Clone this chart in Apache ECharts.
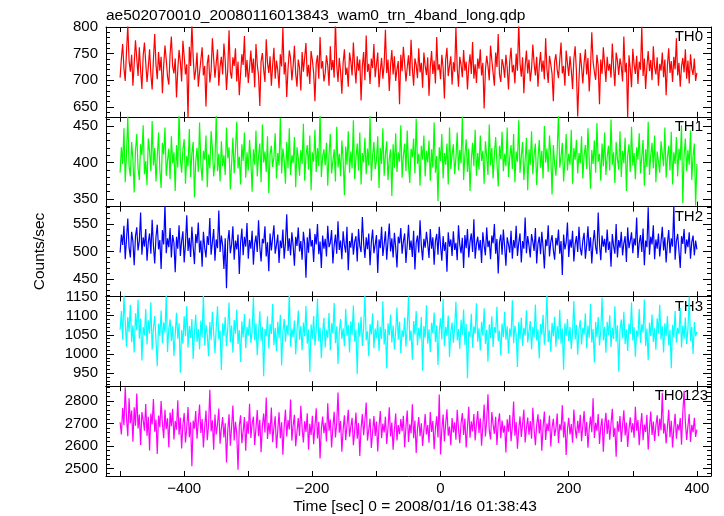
<!DOCTYPE html>
<html>
<head>
<meta charset="utf-8">
<script src="https://cdn.jsdelivr.net/npm/echarts@6/dist/echarts.min.js"></script>
<style>
html,body{margin:0;padding:0;background:#fff;}
#chart{width:724px;height:516px;}
</style>
</head>
<body>
<div id="chart"></div>
<script>
// ---- data ----
const timeStart = -500;   // sec, first bin
const timeStep = 2;       // sec, bin width
const panelNames = ['TH0', 'TH1', 'TH2', 'TH3', 'TH0123'];
const panelColors = ['#ff0000', '#00ff00', '#0000ff', '#00ffff', '#ff00ff'];

const th0 = [
705,741,768,722,699,754,803,737,716,748,690,731,775,742,708,762,719,684,746,771,
733,697,725,758,711,683,740,787,729,702,753,718,744,676,728,765,739,707,692,749,
782,726,713,741,668,720,757,735,698,774,745,711,730,628,763,727,806,744,701,719,
752,688,715,738,762,709,727,651,731,748,696,717,779,740,705,733,758,690,726,744,
711,769,737,682,721,794,716,703,743,727,760,698,735,672,712,749,729,783,706,738,
695,724,756,714,741,687,768,730,709,652,736,751,720,697,777,733,714,745,690,728,
761,703,737,719,685,749,726,798,711,734,669,722,756,741,700,727,765,712,688,739,
724,681,753,716,743,770,707,729,693,755,738,714,661,731,747,703,781,722,736,698,
713,747,728,690,764,719,738,705,812,729,697,742,717,675,733,758,710,724,688,752,
735,709,771,726,694,745,718,739,662,727,753,700,784,716,731,693,741,723,768,706,
729,752,687,718,742,703,730,795,714,739,680,728,757,711,745,699,721,736,655,748,
717,763,731,698,724,747,708,776,722,690,741,729,704,760,715,733,686,752,727,710,
743,671,726,755,712,737,694,781,719,730,702,748,724,666,739,761,708,727,745,692,
734,716,799,723,688,744,729,706,757,718,735,683,726,749,712,772,703,730,695,741,
722,758,709,733,647,719,746,727,700,765,738,714,690,752,725,787,711,697,740,728,
705,748,724,683,736,761,715,729,694,750,718,808,732,707,743,676,727,756,713,739,
698,722,767,731,709,744,688,726,753,716,737,702,779,721,695,746,730,712,661,735,
749,720,704,738,771,713,727,690,756,732,708,745,719,684,740,764,717,632,702,751,
726,694,733,758,711,742,679,724,790,735,716,701,748,727,655,739,712,762,730,697,
744,718,731,705,769,724,689,752,737,710,741,726,698,782,715,733,630,747,722,687,
759,729,712,746,693,735,720,801,708,741,684,726,755,717,738,700,764,725,711,743,
690,731,718,752,706,739,672,728,760,714,736,697,744,721,779,709,733,688,726,742,
715,758,703,737,694,749,722,710,741,699,714];
const th1 = [
386,421,398,447,373,412,463,395,381,428,404,359,417,439,392,376,425,410,451,384,
402,369,433,415,388,457,396,420,374,408,441,390,365,427,411,448,382,403,419,377,
436,399,414,361,424,393,470,405,386,418,432,371,409,395,446,380,413,428,352,401,
420,387,455,398,375,416,404,437,366,411,392,443,419,381,401,466,388,412,374,429,
395,410,383,448,406,421,363,399,434,385,417,456,392,408,370,425,402,441,379,414,
389,431,402,360,418,397,444,381,409,426,373,452,400,415,387,436,358,411,423,394,
407,440,378,413,396,461,385,419,404,371,428,392,447,383,410,399,435,366,421,406,
382,417,398,453,375,409,424,390,437,362,414,401,445,387,420,395,472,380,408,418,
396,427,368,411,439,385,402,418,374,449,393,412,381,430,404,355,422,397,443,386,
415,392,458,377,406,426,389,441,370,413,400,434,384,419,396,464,375,410,428,391,
403,436,365,420,398,447,382,411,429,376,405,418,354,425,393,440,387,414,401,451,
379,409,426,388,444,396,372,419,407,433,385,460,398,412,368,423,404,437,381,416,
400,430,375,418,393,455,386,409,347,421,402,439,378,413,397,426,370,448,391,411,
425,384,406,441,389,417,399,463,376,410,432,387,419,361,404,427,395,445,382,413,
390,437,402,416,371,429,408,383,452,396,420,378,411,435,399,367,423,405,442,388,
412,395,448,380,407,424,391,439,373,415,401,458,386,409,428,376,403,434,362,418,
397,443,384,411,426,369,405,431,393,416,378,450,400,419,387,437,410,356,424,398,
382,415,468,393,408,427,374,402,439,389,412,397,445,371,420,404,431,385,413,399,
436,378,410,424,391,447,403,364,417,398,430,386,454,401,412,375,426,395,441,383,
408,423,389,459,397,414,372,428,405,390,443,380,416,399,434,361,411,425,387,449,
396,413,377,421,404,440,385,408,431,368,418,394,456,383,410,427,392,437,373,415,
401,386,429,412,395,448,379,407,423,389,442,370,414,398,435,381,419,403,451,344,
410,433,388,417,397,444,376,409,426,341,398];
const th2 = [
498,531,512,547,486,523,560,507,489,536,518,475,528,544,502,519,571,494,526,509,
541,483,517,533,496,558,511,478,527,549,504,521,468,539,513,586,497,524,508,543,
489,530,516,462,527,505,548,492,519,537,480,514,566,501,525,490,545,509,477,532,
515,553,498,520,472,536,507,489,528,512,561,494,517,541,483,522,506,575,499,529,
511,468,524,433,518,539,497,513,546,485,520,504,531,459,516,542,493,527,509,552,
487,521,505,538,476,514,529,499,557,508,482,523,515,546,491,517,464,533,502,525,
548,496,512,531,479,520,506,540,487,515,568,501,524,493,535,511,474,527,510,544,
500,519,485,536,514,452,526,498,542,509,521,481,532,513,550,495,518,470,529,505,
523,491,547,508,516,539,478,511,531,496,555,503,520,486,537,512,498,545,466,519,
507,534,494,518,528,482,541,510,499,563,515,488,526,504,533,475,517,540,497,512,
530,461,522,506,545,492,513,537,485,519,551,500,524,489,534,508,471,527,515,543,
496,518,533,479,512,549,503,520,490,538,467,516,529,498,557,511,484,523,507,536,
514,488,541,505,526,476,519,532,494,545,510,483,528,501,517,463,535,509,522,492,
537,503,516,484,548,512,497,525,470,530,506,541,489,518,533,499,559,487,514,527,
502,521,479,535,511,493,544,508,520,486,529,515,550,496,523,460,517,531,494,540,
509,474,526,513,498,538,487,521,506,547,492,516,533,480,519,505,562,497,528,511,
489,532,518,501,543,478,514,527,495,536,508,469,522,510,548,491,517,530,503,485,
525,511,540,496,519,457,531,504,516,553,490,522,507,538,482,513,528,499,545,506,
493,520,534,487,512,546,501,526,478,517,539,508,495,571,514,484,529,509,523,498,
540,503,518,472,532,510,496,550,489,521,507,536,493,515,528,481,544,506,519,535,
497,524,511,562,488,516,530,499,542,475,520,508,581,494,527,513,548,486,522,505,
533,491,518,545,502,526,480,515,539,497,524,509,584,485,519,532,501,470,528,514,
541,496,522,508,535,487,517,529,493,520,504];
const th3 = [
1063,1112,1038,1151,1084,1019,1096,1057,1128,1031,1075,1004,1106,1062,1141,1040,1092,983,1070,1049,
1117,1025,1088,1053,1135,1011,1067,1099,1036,968,1079,1047,1113,1028,1082,1056,1152,1005,1066,1090,
1034,1072,995,1051,1107,1040,1080,951,1062,1027,1098,1046,1125,1016,1073,1042,1091,987,1055,1102,
1031,1065,1012,1087,1044,1156,1022,1076,1050,994,1083,1036,1110,1057,1002,1069,1124,1038,1061,958,
1080,1047,1096,1020,1067,1134,1030,1074,1003,1089,1053,1116,1026,1062,979,1085,1043,1104,1015,1070,
1048,1092,1029,1059,1147,1036,1079,997,1056,1111,1033,1071,942,1065,1046,1098,1014,1078,1052,1130,
1023,1068,1007,1084,1041,1102,970,1057,1091,1032,1075,1049,1160,1019,1066,1044,1087,999,1060,1113,
1037,1073,1010,1082,1046,1125,1027,1064,953,1077,1040,1099,1022,1061,1144,1034,1069,989,1056,1094,
1017,1063,1042,1107,1010,1080,1054,1133,1028,1072,974,1058,1091,1039,1067,1020,1118,1047,1076,1004,
1085,1050,1126,1033,1063,947,1082,1045,1097,1021,1070,1155,1036,1059,994,1078,1051,1106,1015,1066,
1041,1088,1008,1071,1039,1137,1025,1065,962,1080,1049,1103,1030,1074,1012,1058,1121,1037,1084,1002,
1062,1044,1095,1019,1069,1150,1034,1061,985,1086,1051,1112,1023,1068,1040,1096,956,1073,1042,1127,
1027,1064,1005,1081,1054,1108,1031,1075,971,1060,1093,1038,1143,1020,1071,1047,1100,992,1057,1082,
1029,1069,1136,1035,1065,1013,1089,1050,1116,1024,1078,937,1059,1045,1105,1016,1072,1053,1132,1032,
1067,1009,1084,1048,1119,1026,1063,980,1077,1041,1098,1018,1070,1055,1123,1033,1061,996,1079,1044,
1109,1037,1072,1001,1066,1045,1140,1028,1074,1052,966,1083,1039,1095,1021,1068,1048,1114,1030,1059,
1086,1012,1071,1043,1129,1035,1064,988,1078,1050,1102,1024,1067,1154,1031,1062,1006,1081,1046,1097,
1019,1073,1040,1115,1027,1066,959,1080,1047,1091,1034,1070,1013,1058,1138,1038,1076,998,1063,1088,
1025,1069,1051,1106,1015,1074,1042,1131,1030,1065,978,1083,1044,1096,1022,1060,1147,1036,1071,1003,
1084,1049,1101,1018,1068,1039,1124,1032,1075,954,1062,1090,1041,1110,1026,1064,1008,1079,1052,1135,
1035,1070,993,1061,1045,1117,1029,1077,1056,1142,1020,1066,984,1082,1047,1103,1031,1067,1011,1093,
1054,1128,1038,1072,1004,1080,1046,1099,1023,1063,963,1076,1043,1112,1030,1068,1053,1120,1017,1074,
1040,1095,1026,1065,1150,1034,1071,1000,1083,1046,1058];
const th0123 = [
2705,2651,2768,2692,2860,2724,2643,2812,2701,2757,2619,2772,2690,2833,2678,2739,2604,2750,2715,2668,
2786,2645,2729,2580,2744,2696,2808,2663,2717,2565,2735,2683,2799,2700,2634,2761,2674,2723,2595,2748,
2688,2765,2629,2711,2672,2803,2650,2726,2589,2694,2746,2616,2682,2773,2639,2705,2510,2712,2677,2755,
2632,2706,2784,2658,2719,2593,2686,2757,2626,2692,2849,2665,2714,2583,2740,2651,2695,2766,2610,2678,
2728,2638,2701,2527,2670,2741,2601,2684,2779,2624,2707,2656,2495,2689,2736,2612,2666,2728,2579,2709,
2654,2787,2636,2699,2730,2605,2679,2759,2643,2716,2572,2688,2744,2660,2815,2631,2703,2652,2771,2617,
2682,2732,2590,2668,2749,2634,2705,2561,2686,2761,2642,2715,2673,2806,2624,2691,2738,2599,2664,2724,
2645,2778,2680,2616,2710,2662,2745,2584,2698,2649,2734,2608,2687,2767,2633,2707,2545,2676,2730,2657,
2703,2620,2789,2668,2717,2593,2683,2752,2638,2700,2837,2659,2711,2575,2673,2736,2626,2692,2760,2641,
2685,2725,2603,2666,2748,2632,2702,2556,2679,2741,2648,2715,2793,2624,2672,2721,2591,2660,2733,2645,
2708,2576,2687,2755,2635,2699,2660,2730,2609,2680,2772,2642,2704,2583,2671,2744,2625,2693,2652,2719,
2666,2734,2595,2684,2757,2618,2696,2657,2785,2634,2713,2569,2676,2728,2643,2701,2600,2669,2742,2651,
2693,2615,2750,2662,2711,2586,2678,2732,2638,2828,2562,2674,2739,2620,2697,2763,2646,2686,2603,2724,
2660,2705,2628,2760,2676,2612,2701,2746,2649,2722,2593,2681,2774,2637,2709,2665,2742,2624,2698,2755,
2658,2723,2601,2687,2784,2642,2714,2829,2670,2629,2750,2695,2654,2729,2605,2702,2745,2635,2713,2659,
2690,2571,2718,2663,2737,2621,2684,2797,2646,2706,2588,2675,2731,2640,2698,2761,2616,2679,2726,2650,
2711,2632,2769,2673,2604,2694,2740,2655,2718,2579,2686,2753,2627,2700,2667,2735,2598,2682,2720,2645,
2677,2744,2613,2696,2669,2781,2638,2708,2560,2673,2725,2651,2697,2615,2762,2680,2633,2712,2658,2738,
2621,2689,2755,2644,2706,2592,2678,2730,2661,2811,2636,2703,2668,2742,2609,2685,2722,2575,2691,2747,
2653,2716,2628,2699,2765,2640,2681,2552,2710,2663,2733,2618,2692,2758,2647,2704,2596,2675,2727,2660,
2701,2637,2774,2668,2715,2603,2687,2746,2626,2695,2662,2738,2584,2679,2753,2649,2708,2622,2690,2736,
2643,2721,2670,2836,2655,2700,2611,2684,2760,2639,2712,2593,2678,2743,2632,2696,2669,2724,2606,2748,
2845,2705,2627,2689,2742,2618,2694,2661,2725,2640,2673];
const seriesValues = [th0, th1, th2, th3, th0123];

const xRange = [-522, 422];
const xTickValues = [-500, -400, -300, -200, -100, 0, 100, 200, 300, 400];
const xLabelValues = [-400, -200, 0, 200, 400];
const yRanges = [[631.6, 800], [339.5, 462.7], [418, 582], [916, 1150], [2467, 2865]];
const yLabelValues = [
  [650, 700, 750, 800],
  [350, 400, 450],
  [450, 500, 550],
  [950, 1000, 1050, 1100, 1150],
  [2500, 2600, 2700, 2800]
];
const yMinorSteps = [10, 10, 10, 10, 20];

const titleText = 'ae502070010_20080116013843_wam0_trn_4band_long.qdp';
const xTitle = 'Time [sec] 0 = 2008/01/16 01:38:43';
const yTitle = 'Counts/sec';

// ---- layout ----
const FONT = '"Liberation Sans", Arial, Helvetica, sans-serif';
const gridLeft = 106, gridWidth = 605, gridTop0 = 27, gridH = 89.8;
const labelRight = [703, 703, 703, 703, 708];

const grids = [], xAxes = [], yAxes = [], series = [], graphics = [];
const plainFmt = v => String(v).replace('-', '\u2212');

for (let i = 0; i < 5; i++) {
  const top = gridTop0 + i * gridH;
  grids.push({ left: gridLeft, width: gridWidth, top: top, height: gridH, containLabel: false });

  const lineStyle = { show: true, onZero: false, lineStyle: { color: '#000', width: 1 } };
  ['bottom', 'top'].forEach(pos => {
    xAxes.push({
      type: 'value', gridIndex: i, position: pos, min: xRange[0], max: xRange[1],
      axisLine: lineStyle,
      axisTick: { show: true, inside: true, length: 5, customValues: xTickValues, lineStyle: { color: '#000', width: 1 } },
      axisLabel: {
        show: (pos === 'bottom' && i === 4), customValues: xLabelValues, formatter: plainFmt,
        fontSize: 15, fontFamily: FONT, color: '#000', margin: 5
      },
      splitLine: { show: false }
    });
  });

  const [ymin, ymax] = yRanges[i];
  const step = yMinorSteps[i];
  const minor = [];
  for (let v = Math.ceil(ymin / step) * step; v <= ymax; v += step) minor.push(v);

  ['left', 'right'].forEach(pos => {
    yAxes.push({
      type: 'value', gridIndex: i, position: pos, min: ymin, max: ymax,
      axisLine: lineStyle,
      axisTick: { show: true, inside: true, length: 8, customValues: yLabelValues[i], lineStyle: { color: '#000', width: 1 } },
      axisLabel: {
        show: pos === 'left', customValues: yLabelValues[i], formatter: plainFmt,
        fontSize: 15, fontFamily: FONT, color: '#000', margin: 8
      },
      splitLine: { show: false }
    });
    yAxes.push({
      type: 'value', gridIndex: i, position: pos, min: ymin, max: ymax,
      axisLine: { show: false, onZero: false },
      axisTick: { show: true, inside: true, length: 4, customValues: minor, lineStyle: { color: '#000', width: 1 } },
      axisLabel: { show: false },
      splitLine: { show: false }
    });
  });

  const vals = seriesValues[i];
  series.push({
    type: 'line',
    xAxisIndex: i * 2,
    yAxisIndex: i * 4,
    data: vals.map((v, k) => [timeStart + k * timeStep, v]),
    showSymbol: false,
    symbol: 'none',
    clip: true,
    lineStyle: { color: panelColors[i], width: 1.2 },
    itemStyle: { color: panelColors[i] },
    silent: true
  });

  graphics.push({
    type: 'text', x: labelRight[i], y: top + 10,
    style: { text: panelNames[i], fill: '#000', font: '15px ' + FONT, textAlign: 'right', textVerticalAlign: 'middle' }
  });
}

graphics.push({
  type: 'text', x: 106, y: 16,
  style: { text: titleText, fill: '#000', font: '15.5px ' + FONT, textAlign: 'left', textVerticalAlign: 'middle' }
});
graphics.push({
  type: 'text', x: 415, y: 506.5,
  style: { text: xTitle, fill: '#000', font: '15.5px ' + FONT, textAlign: 'center', textVerticalAlign: 'middle' }
});
graphics.push({
  type: 'text', x: 40, y: 251.5, rotation: Math.PI / 2,
  style: { text: yTitle, fill: '#000', font: '15.5px ' + FONT, textAlign: 'center', textVerticalAlign: 'middle' }
});

const chart = echarts.init(document.getElementById('chart'), null, { renderer: 'canvas' });
chart.setOption({
  animation: false,
  backgroundColor: '#fff',
  grid: grids,
  xAxis: xAxes,
  yAxis: yAxes,
  series: series,
  graphic: graphics
});
</script>
</body>
</html>
